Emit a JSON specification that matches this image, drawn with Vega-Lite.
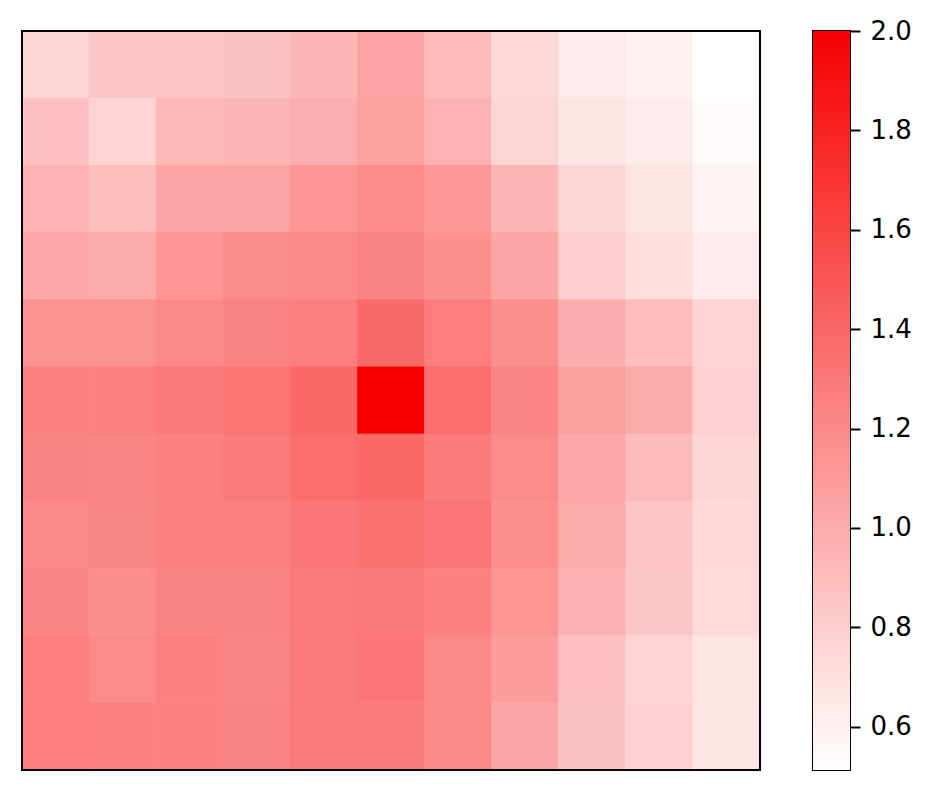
{
  "$schema": "https://vega.github.io/schema/vega-lite/v6.json",
  "padding": {"left": 20, "top": 17, "right": 0, "bottom": 0},
  "background": "white",
  "config": {
    "view": {"stroke": "black", "strokeWidth": 2},
    "font": "DejaVu Sans"
  },
  "spacing": 50,
  "datasets": {
    "grid": [
      {"r":0,"c":0,"v":0.758},{"r":0,"c":1,"v":0.851},{"r":0,"c":2,"v":0.85},{"r":0,"c":3,"v":0.86},{"r":0,"c":4,"v":0.939},{"r":0,"c":5,"v":1.05},{"r":0,"c":6,"v":0.91},{"r":0,"c":7,"v":0.74},{"r":0,"c":8,"v":0.636},{"r":0,"c":9,"v":0.6},{"r":0,"c":10,"v":0.513},
      {"r":1,"c":0,"v":0.88},{"r":1,"c":1,"v":0.77},{"r":1,"c":2,"v":0.927},{"r":1,"c":3,"v":0.945},{"r":1,"c":4,"v":0.985},{"r":1,"c":5,"v":1.067},{"r":1,"c":6,"v":0.956},{"r":1,"c":7,"v":0.758},{"r":1,"c":8,"v":0.665},{"r":1,"c":9,"v":0.63},{"r":1,"c":10,"v":0.536},
      {"r":2,"c":0,"v":0.956},{"r":2,"c":1,"v":0.892},{"r":2,"c":2,"v":1.038},{"r":2,"c":3,"v":1.038},{"r":2,"c":4,"v":1.131},{"r":2,"c":5,"v":1.195},{"r":2,"c":6,"v":1.108},{"r":2,"c":7,"v":0.939},{"r":2,"c":8,"v":0.758},{"r":2,"c":9,"v":0.676},{"r":2,"c":10,"v":0.583},
      {"r":3,"c":0,"v":1.02},{"r":3,"c":1,"v":1.003},{"r":3,"c":2,"v":1.131},{"r":3,"c":3,"v":1.184},{"r":3,"c":4,"v":1.2},{"r":3,"c":5,"v":1.242},{"r":3,"c":6,"v":1.16},{"r":3,"c":7,"v":1.038},{"r":3,"c":8,"v":0.805},{"r":3,"c":9,"v":0.71},{"r":3,"c":10,"v":0.63},
      {"r":4,"c":0,"v":1.154},{"r":4,"c":1,"v":1.154},{"r":4,"c":2,"v":1.207},{"r":4,"c":3,"v":1.242},{"r":4,"c":4,"v":1.26},{"r":4,"c":5,"v":1.382},{"r":4,"c":6,"v":1.27},{"r":4,"c":7,"v":1.166},{"r":4,"c":8,"v":0.997},{"r":4,"c":9,"v":0.898},{"r":4,"c":10,"v":0.77},
      {"r":5,"c":0,"v":1.248},{"r":5,"c":1,"v":1.254},{"r":5,"c":2,"v":1.294},{"r":5,"c":3,"v":1.318},{"r":5,"c":4,"v":1.393},{"r":5,"c":5,"v":2.0},{"r":5,"c":6,"v":1.358},{"r":5,"c":7,"v":1.224},{"r":5,"c":8,"v":1.073},{"r":5,"c":9,"v":1.003},{"r":5,"c":10,"v":0.787},
      {"r":6,"c":0,"v":1.242},{"r":6,"c":1,"v":1.224},{"r":6,"c":2,"v":1.254},{"r":6,"c":3,"v":1.283},{"r":6,"c":4,"v":1.358},{"r":6,"c":5,"v":1.393},{"r":6,"c":6,"v":1.289},{"r":6,"c":7,"v":1.195},{"r":6,"c":8,"v":1.02},{"r":6,"c":9,"v":0.915},{"r":6,"c":10,"v":0.758},
      {"r":7,"c":0,"v":1.207},{"r":7,"c":1,"v":1.218},{"r":7,"c":2,"v":1.254},{"r":7,"c":3,"v":1.254},{"r":7,"c":4,"v":1.312},{"r":7,"c":5,"v":1.347},{"r":7,"c":6,"v":1.306},{"r":7,"c":7,"v":1.172},{"r":7,"c":8,"v":1.008},{"r":7,"c":9,"v":0.851},{"r":7,"c":10,"v":0.74},
      {"r":8,"c":0,"v":1.224},{"r":8,"c":1,"v":1.178},{"r":8,"c":2,"v":1.236},{"r":8,"c":3,"v":1.236},{"r":8,"c":4,"v":1.283},{"r":8,"c":5,"v":1.3},{"r":8,"c":6,"v":1.248},{"r":8,"c":7,"v":1.137},{"r":8,"c":8,"v":0.962},{"r":8,"c":9,"v":0.845},{"r":8,"c":10,"v":0.735},
      {"r":9,"c":0,"v":1.27},{"r":9,"c":1,"v":1.195},{"r":9,"c":2,"v":1.254},{"r":9,"c":3,"v":1.23},{"r":9,"c":4,"v":1.283},{"r":9,"c":5,"v":1.306},{"r":9,"c":6,"v":1.2},{"r":9,"c":7,"v":1.096},{"r":9,"c":8,"v":0.875},{"r":9,"c":9,"v":0.77},{"r":9,"c":10,"v":0.676},
      {"r":10,"c":0,"v":1.27},{"r":10,"c":1,"v":1.254},{"r":10,"c":2,"v":1.254},{"r":10,"c":3,"v":1.242},{"r":10,"c":4,"v":1.289},{"r":10,"c":5,"v":1.289},{"r":10,"c":6,"v":1.207},{"r":10,"c":7,"v":1.038},{"r":10,"c":8,"v":0.86},{"r":10,"c":9,"v":0.787},{"r":10,"c":10,"v":0.665}
    ],
    "bar": [{"lo": 0.513, "hi": 2.0}]
  },
  "hconcat": [
    {
      "width": 738,
      "height": 739,
      "layer": [
        {
          "data": {"name": "grid"},
          "mark": {"type": "rect", "strokeWidth": 0.8},
          "encoding": {
            "x": {"field": "c", "type": "ordinal", "axis": null, "scale": {"paddingInner": 0, "paddingOuter": 0}},
            "y": {"field": "r", "type": "ordinal", "axis": null, "scale": {"paddingInner": 0, "paddingOuter": 0}},
            "fill": {
              "field": "v", "type": "quantitative", "legend": null,
              "scale": {"type": "linear", "domain": [0.513, 2.0], "range": ["#ffffff", "#f70000"], "interpolate": "rgb"}
            },
            "stroke": {
              "field": "v", "type": "quantitative", "legend": null,
              "scale": {"type": "linear", "domain": [0.513, 2.0], "range": ["#ffffff", "#f70000"], "interpolate": "rgb"}
            }
          }
        },
        {
          "data": {"name": "bar"},
          "mark": {"type": "rect", "fill": null, "fillOpacity": 0, "stroke": "black", "strokeWidth": 2},
          "encoding": {}
        }
      ]
    },
    {
      "width": 37,
      "height": 739,
      "data": {"name": "bar"},
      "mark": {
        "type": "rect",
        "color": {
          "gradient": "linear", "x1": 0, "y1": 1, "x2": 0, "y2": 0,
          "stops": [{"offset": 0, "color": "#ffffff"}, {"offset": 1, "color": "#f70000"}]
        }
      },
      "encoding": {
        "y": {
          "field": "lo", "type": "quantitative",
          "scale": {"domain": [0.513, 2.0], "nice": false, "zero": false},
          "axis": {
            "orient": "right", "title": null, "values": [0.6, 0.8, 1.0, 1.2, 1.4, 1.6, 1.8, 2.0],
            "format": ".1f", "grid": false, "domain": false,
            "ticks": true, "tickSize": 10, "tickWidth": 2, "tickColor": "black",
            "labelPadding": 10, "labelFontSize": 26, "labelFont": "DejaVu Sans", "labelColor": "black",
            "labelBaseline": "middle", "labelFlush": false, "labelOverlap": false
          }
        },
        "y2": {"field": "hi"}
      }
    }
  ]
}
